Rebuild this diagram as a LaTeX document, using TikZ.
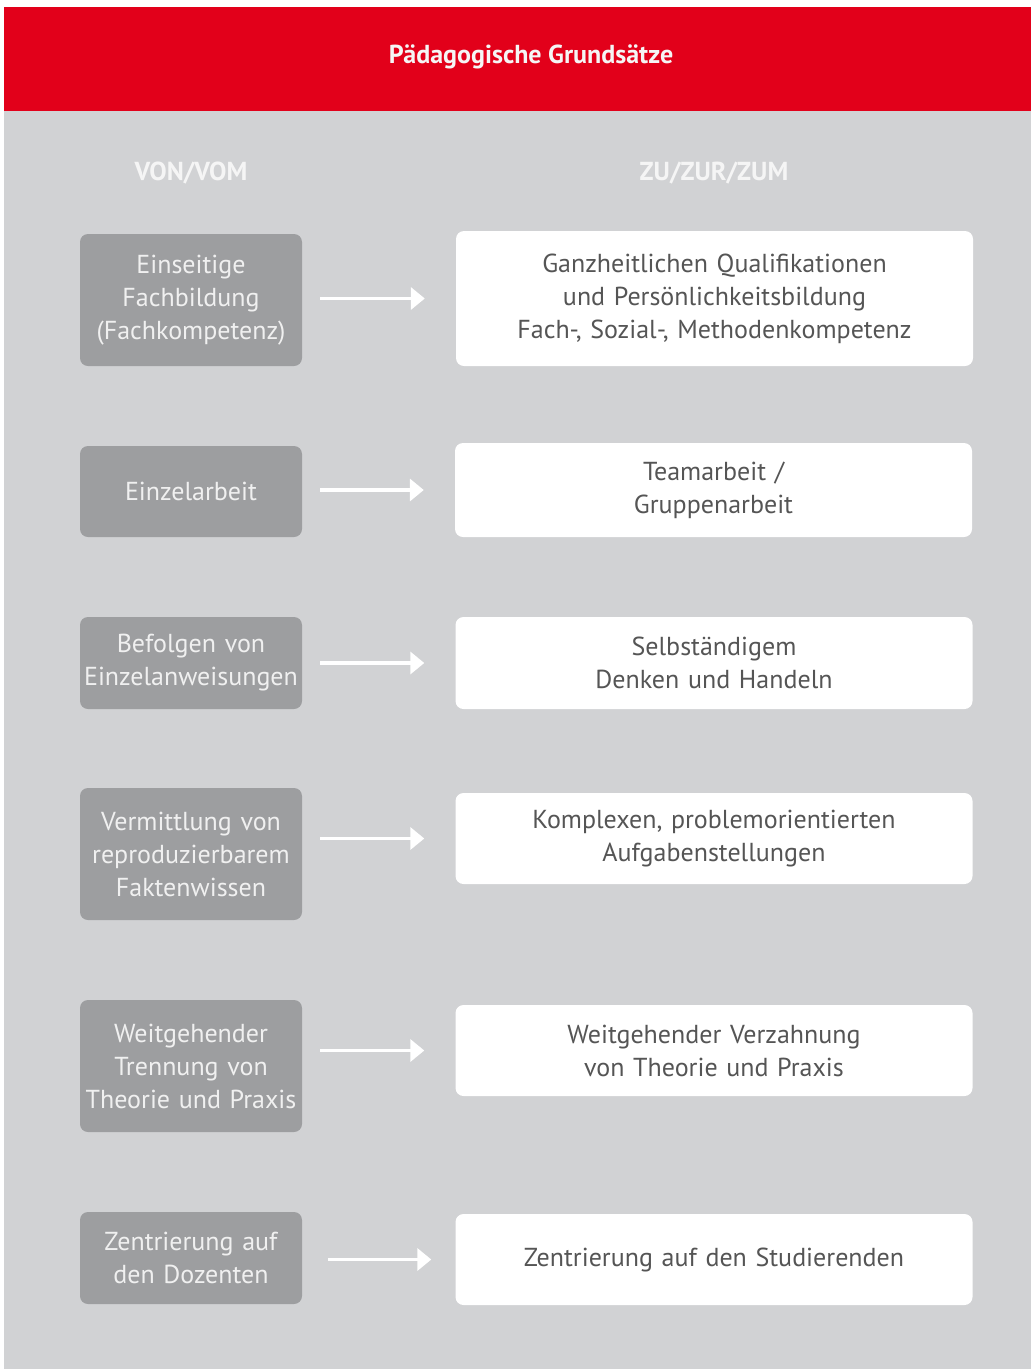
\documentclass[tikz,border=0pt]{standalone}
\usepackage{fontspec}
\setmainfont{PT Sans}
\usetikzlibrary{arrows.meta}
\definecolor{rot}{HTML}{E2001A}
\definecolor{hellgrau}{HTML}{D1D2D4}
\definecolor{dunkelgrau}{HTML}{9D9EA0}
\definecolor{schrift}{HTML}{555555}
\begin{document}
\begin{tikzpicture}[x=1pt,y=-1pt,
	von/.style={fill=dunkelgrau,rounded corners=8pt,text=white!94!black,align=center,
		inner sep=0pt,minimum width=222pt,text width=222pt,font=\fontsize{26}{33}\selectfont},
	zu/.style={fill=white,rounded corners=8pt,text=schrift,align=center,
		inner sep=0pt,minimum width=517pt,text width=517pt,font=\fontsize{26}{33}\selectfont},
	kopf/.style={text=white!96!black,font=\fontsize{26}{30}\selectfont\bfseries},
	pfeil/.style={draw=white,line width=3.5pt,-{Triangle[length=14pt,width=22pt]},
		shorten <=18pt,shorten >=31pt}]
		\useasboundingbox (0,0) rectangle (1031,1369);
		\fill[hellgrau] (4,111) rectangle (1031,1369);
		\fill[rot] (4,7) rectangle (1031,111);
		\node[kopf] (titel) at (531,57) {Pädagogische Grundsätze};
		\node[kopf] (kopfvon) at (191,173) {VON/VOM};
		\node[kopf] (kopfzu) at (714,173) {ZU/ZUR/ZUM};
		% linke Spalte
		\node[von,minimum height=132pt] (l1) at (191,300) {Einseitige\\Fachbildung\\(Fachkompetenz)};
		\node[von,minimum height=91pt] (l2) at (191,491.5) {Einzelarbeit};
		\node[von,minimum height=92pt] (l3) at (191,663) {Befolgen von\\Einzelanweisungen};
		\node[von,minimum height=132pt] (l4) at (191,854) {Vermittlung von\\reproduzierbarem\\Faktenwissen};
		\node[von,minimum height=132pt] (l5) at (191,1066) {Weitgehender\\Trennung von\\Theorie und Praxis};
		\node[von,minimum height=92pt] (l6) at (191,1258) {Zentrierung auf\\den Dozenten};
		% rechte Spalte
		\node[zu,minimum height=135pt] (r1) at (714.5,298.5) {Ganzheitlichen Qualifikationen\\und Persönlichkeitsbildung\\Fach-, Sozial-, Methodenkompetenz};
		\node[zu,minimum height=94pt] (r2) at (713.5,490) {Teamarbeit /\\Gruppenarbeit};
		\node[zu,minimum height=92pt] (r3) at (714,663) {Selbständigem\\Denken und Handeln};
		\node[zu,minimum height=91pt] (r4) at (714,838.5) {Komplexen, problemorientierten\\Aufgabenstellungen};
		\node[zu,minimum height=91pt] (r5) at (714,1050.5) {Weitgehender Verzahnung\\von Theorie und Praxis};
		\node[zu,minimum height=91pt] (r6) at (714,1259.5) {Zentrierung auf den Studierenden};
		% Pfeile
		\foreach \i in {1,...,5}
		{
			\draw[pfeil] (l\i.east |- r\i.west) -- (r\i.west);
		}
		\draw[pfeil,shorten <=26pt,shorten >=24pt] (l6.east |- r6.west) -- (r6.west);
\end{tikzpicture}
\end{document}
